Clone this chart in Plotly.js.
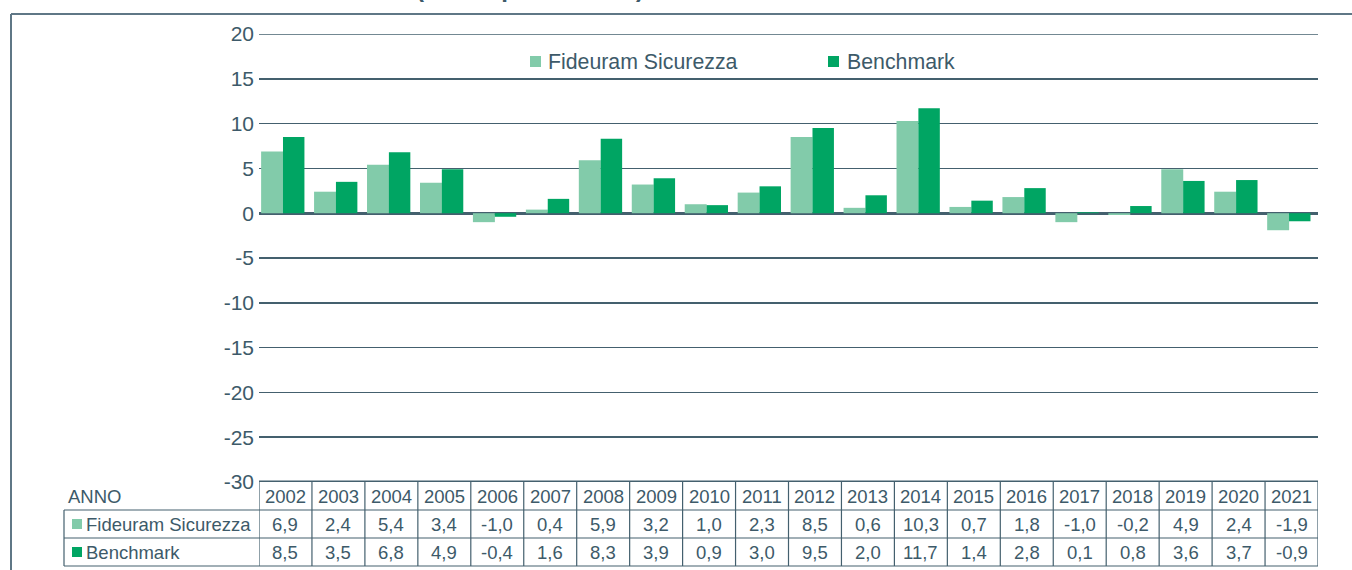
<!DOCTYPE html>
<html>
<head>
<meta charset="utf-8">
<script src="https://cdn.plot.ly/plotly-3.0.1.min.js"></script>
<style>
html,body{margin:0;padding:0;background:#fff;}
#chart{width:1352px;height:570px;}
</style>
</head>
<body>
<div id="chart"></div>
<script>
// ---- data ----
const years = ["2002","2003","2004","2005","2006","2007","2008","2009","2010","2011","2012","2013","2014","2015","2016","2017","2018","2019","2020","2021"];
const fondo = [6.9,2.4,5.4,3.4,-1.0,0.4,5.9,3.2,1.0,2.3,8.5,0.6,10.3,0.7,1.8,-1.0,-0.2,4.9,2.4,-1.9];
const benchmark = [8.5,3.5,6.8,4.9,-0.4,1.6,8.3,3.9,0.9,3.0,9.5,2.0,11.7,1.4,2.8,0.1,0.8,3.6,3.7,-0.9];
const seriesNames = ["Fideuram Sicurezza","Benchmark"];
const yTickVals = [-30,-25,-20,-15,-10,-5,0,5,10,15,20];
const yTickText = ["-30","-25","-20","-15","-10","-5","0","5","10","15","20"];
const tableHeader = "ANNO";
const titleText = "Rendimenti annui (dati in percentuale)";

// ---- style ----
const cLight = "#82cbaa", cDark = "#00a563";
const ink = "#3d5a69", lineC = "#44606e";
const FONT = "Liberation Sans, Arial, sans-serif";

// geometry helpers (plot area: x 259..1318, y 34..482)
const L = 259, R = 1318, T = 34, B = 482;
const px = v => (v - L) / (R - L);
const py = v => (B - v) / (B - T);

function fmt(v){ return v.toFixed(1).replace(".", ","); }

const traces = [
  {type:"bar", x:years, y:fondo, name:seriesNames[0], marker:{color:cLight}, offset:-0.46, width:0.415, hoverinfo:"x+y"},
  {type:"bar", x:years, y:benchmark, name:seriesNames[1], marker:{color:cDark}, offset:-0.047, width:0.405, hoverinfo:"x+y"}
];

const shapes = [];
const annotations = [];

// outer frame
shapes.push({type:"line", xref:"paper", yref:"paper", x0:px(11), x1:px(1352), y0:py(14), y1:py(14), line:{color:"#5f7786", width:2}});
shapes.push({type:"line", xref:"paper", yref:"paper", x0:px(11), x1:px(11), y0:py(14), y1:py(572), line:{color:"#5f7786", width:2}});

// top gridline (20) and thick bottom line (-30, table top)
shapes.push({type:"line", xref:"paper", yref:"y", x0:0, x1:1, y0:20, y1:20, line:{color:lineC, width:1.6}});
shapes.push({type:"line", xref:"paper", yref:"y", x0:0, x1:1, y0:-30, y1:-30, line:{color:lineC, width:3}});

// table horizontal lines
[510, 538, 566].forEach(v => {
  shapes.push({type:"line", xref:"paper", yref:"paper", x0:px(64), x1:1, y0:py(v), y1:py(v), line:{color:lineC, width:1.2}});
});
// table vertical lines at category boundaries
for (let i = 0; i <= years.length; i++) {
  shapes.push({type:"line", xref:"x", yref:"paper", x0:i-0.5, x1:i-0.5, y0:py(482), y1:py(566), line:{color:lineC, width:1.2}});
}
shapes.push({type:"line", xref:"paper", yref:"paper", x0:px(64), x1:px(64), y0:py(510), y1:py(566), line:{color:lineC, width:1.2}});

// table text
const rowY = [py(496), py(524), py(552)];
const cell = (x, y, text, xref, xanchor) => ({xref:xref, yref:"paper", x:x, y:y, xanchor:xanchor, yanchor:"middle", text:text, showarrow:false, font:{family:FONT, size:18.5, color:ink}});
years.forEach((yr, i) => {
  annotations.push(cell(i, rowY[0], yr, "x", "center"));
  annotations.push(cell(i, rowY[1], fmt(fondo[i]), "x", "center"));
  annotations.push(cell(i, rowY[2], fmt(benchmark[i]), "x", "center"));
});
annotations.push(cell(px(66), rowY[0], tableHeader, "paper", "left"));
annotations.push(cell(px(84), rowY[1], seriesNames[0], "paper", "left"));
annotations.push(cell(px(84), rowY[2], seriesNames[1], "paper", "left"));
shapes.push({type:"rect", xref:"paper", yref:"paper", x0:px(72), x1:px(82), y0:py(529), y1:py(519), fillcolor:cLight, line:{width:0}});
shapes.push({type:"rect", xref:"paper", yref:"paper", x0:px(72), x1:px(82), y0:py(557), y1:py(547), fillcolor:cDark, line:{width:0}});

// legend
shapes.push({type:"rect", xref:"paper", yref:"paper", x0:px(530), x1:px(541), y0:py(67), y1:py(56), fillcolor:cLight, line:{width:0}});
shapes.push({type:"rect", xref:"paper", yref:"paper", x0:px(828), x1:px(839), y0:py(67), y1:py(56), fillcolor:cDark, line:{width:0}});
annotations.push({xref:"paper", yref:"paper", x:px(546), y:py(62), xanchor:"left", yanchor:"middle", text:seriesNames[0], showarrow:false, font:{family:FONT, size:21.3, color:ink}});
annotations.push({xref:"paper", yref:"paper", x:px(845), y:py(62), xanchor:"left", yanchor:"middle", text:seriesNames[1], showarrow:false, font:{family:FONT, size:21.3, color:ink}});

// cut-off title (only its lower edge is visible)
annotations.push({xref:"paper", yref:"paper", x:px(646), y:py(-12), xanchor:"right", yanchor:"middle", text:"<b>"+titleText+"</b>", showarrow:false, font:{family:FONT, size:24, color:ink}});

const layout = {
  width:1352, height:570,
  margin:{l:L, r:1352-R, t:T, b:570-B, pad:0},
  paper_bgcolor:"#fff", plot_bgcolor:"#fff",
  showlegend:false,
  barmode:"group", bargap:0.17, bargroupgap:0,
  font:{family:FONT, color:ink},
  xaxis:{type:"category", range:[-0.5, years.length-0.5], showticklabels:false, showgrid:false, zeroline:false, showline:false, ticks:"", fixedrange:true},
  yaxis:{range:[-30, 20], tickmode:"array", tickvals:yTickVals, ticktext:yTickText, showgrid:true, gridcolor:lineC, gridwidth:1.6,
         zeroline:true, zerolinecolor:lineC, zerolinewidth:3, showline:false, ticks:"", ticklabelstandoff:4,
         tickfont:{family:FONT, size:21, color:ink}, fixedrange:true},
  shapes:shapes,
  annotations:annotations
};

Plotly.newPlot("chart", traces, layout, {displayModeBar:false, staticPlot:true});
</script>
</body>
</html>
